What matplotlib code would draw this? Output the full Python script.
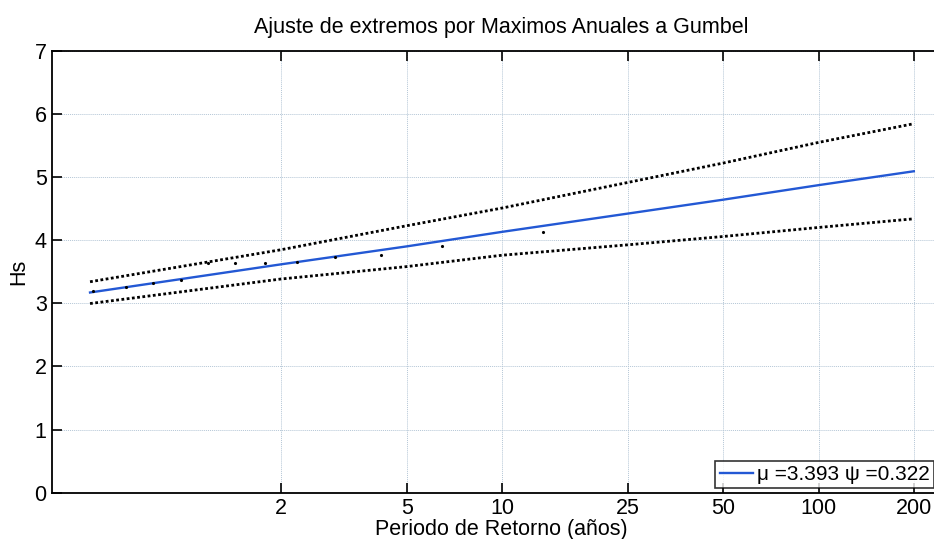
import numpy as np
import matplotlib
matplotlib.use("Agg")
import matplotlib.pyplot as plt
from matplotlib.ticker import FixedLocator, FixedFormatter, NullLocator

plt.rcParams['font.family'] = ['Liberation Sans', 'DejaVu Sans']

# maximos anuales (periodo de retorno, Hs)
T_obs = [0.51, 0.65, 0.79, 0.97, 1.18, 1.44, 1.78, 2.25, 2.96, 4.14, 6.49, 13.5]
hs_obs = [3.20, 3.25, 3.32, 3.37, 3.63, 3.645, 3.645, 3.655, 3.74, 3.76, 3.91, 4.13]

# ajuste Gumbel y bandas de confianza
T_fit = [0.5, 2, 5, 10, 25, 50, 100, 200]
hs_fit = [3.17, 3.615, 3.90, 4.13, 4.42, 4.64, 4.87, 5.09]
hs_sup = [3.34, 3.846, 4.227, 4.507, 4.913, 5.22, 5.547, 5.843]
hs_inf = [2.995, 3.383, 3.58, 3.76, 3.925, 4.057, 4.20, 4.337]

mu = 3.393
psi = 0.322

xticks = [2, 5, 10, 25, 50, 100, 200]
xlabels = ['2', '5', '10', '25', '50', '100', '200']

fs = 15.5

fig = plt.figure(figsize=(9.34, 5.39), dpi=100)
ax = fig.add_axes([0.056, 0.086, 0.961, 0.820])

ax.plot(T_fit, hs_fit, color='#2358d4', lw=1.7,
        label='\u03bc =%.3f \u03c8 =%.3f' % (mu, psi))
ax.plot(T_fit, hs_sup, color='black', lw=2.0, ls=(0, (1, 0.9)))
ax.plot(T_fit, hs_inf, color='black', lw=2.0, ls=(0, (1, 0.9)))
ax.plot(T_obs, hs_obs, ls='none', marker='.', ms=2.5, color='black')

ax.set_xscale('log')
ax.set_xlim(0.38, 260)
ax.set_ylim(0, 7)
ax.xaxis.set_major_locator(FixedLocator(xticks))
ax.xaxis.set_major_formatter(FixedFormatter(xlabels))
ax.xaxis.set_minor_locator(NullLocator())
ax.set_yticks(range(0, 8))

ax.grid(True, ls=(0, (1, 1)), color='#b4c6d6', lw=0.7)
ax.tick_params(direction='in', length=7, width=1.2, labelsize=fs,
               top=True, right=True, pad=4)
for s in ax.spines.values():
    s.set_linewidth(1.3)

ax.set_title('Ajuste de extremos por Maximos Anuales a Gumbel', fontsize=fs, pad=13)
ax.set_xlabel('Periodo de Retorno (a\u00f1os)', fontsize=fs, labelpad=0)
ax.set_ylabel('Hs', fontsize=fs, labelpad=4)

leg = ax.legend(loc='lower left', bbox_to_anchor=(0.766, 0.094),
                bbox_transform=fig.transFigure, frameon=True,
                prop={'size': 15}, fancybox=False,
                handlelength=1.6, handletextpad=0.2,
                borderpad=0.2, borderaxespad=0)
leg.get_frame().set_edgecolor('black')
leg.get_frame().set_linewidth(1.2)

fig.savefig('out.png', dpi=100)
